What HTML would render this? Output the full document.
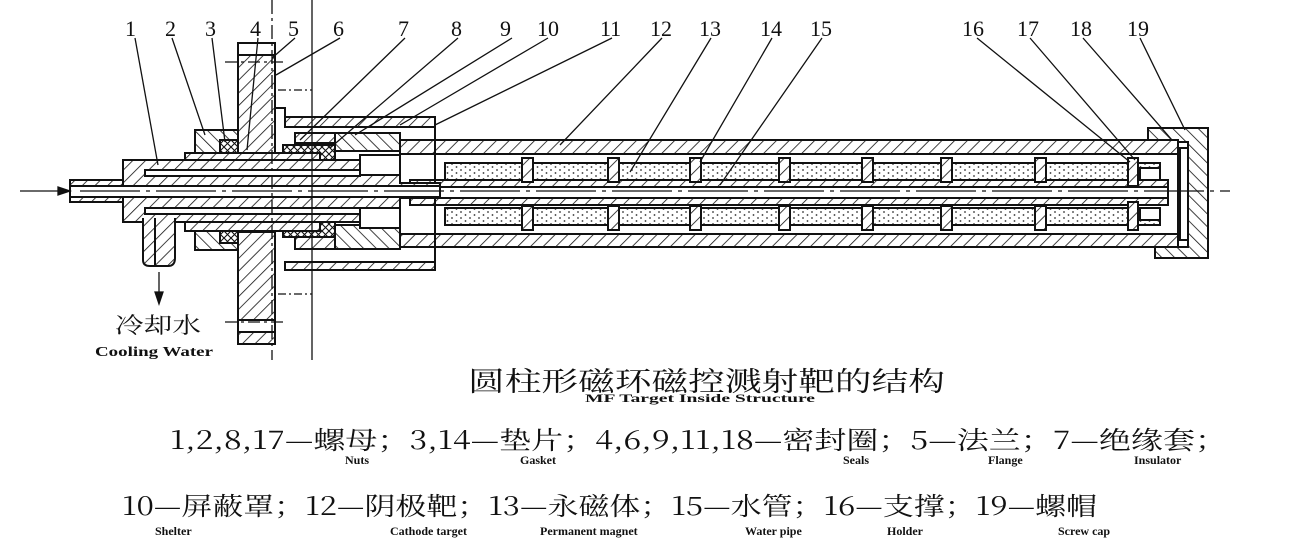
<!DOCTYPE html>
<html><head><meta charset="utf-8"><style>
html,body{margin:0;padding:0;background:#fff;}
svg{display:block}
.n{font-family:"Liberation Serif","Noto Serif CJK SC",serif;font-size:22px;fill:#111}
.cn{font-family:"Noto Serif CJK SC","Noto Sans CJK SC",serif;fill:#111}
.en{font-family:"Liberation Serif",serif;font-weight:bold;fill:#111}
</style></head><body>
<svg width="1300" height="542" viewBox="0 0 1300 542" xmlns="http://www.w3.org/2000/svg">
<defs>
<pattern id="h" width="9" height="9" patternUnits="userSpaceOnUse" patternTransform="rotate(45)"><rect width="9" height="9" fill="#fff"/><line x1="0" y1="0" x2="0" y2="9" stroke="#111" stroke-width="1.6"/></pattern>
<pattern id="h2" width="9" height="9" patternUnits="userSpaceOnUse" patternTransform="rotate(-45)"><rect width="9" height="9" fill="#fff"/><line x1="0" y1="0" x2="0" y2="9" stroke="#111" stroke-width="1.6"/></pattern>
<pattern id="x" width="7" height="7" patternUnits="userSpaceOnUse"><rect width="7" height="7" fill="#fff"/><path d="M0 0L7 7M7 0L0 7" stroke="#111" stroke-width="1.1"/></pattern>
<pattern id="d" width="9" height="6" patternUnits="userSpaceOnUse"><rect width="9" height="6" fill="#fff"/><circle cx="2" cy="2" r="0.9" fill="#333"/><circle cx="6.5" cy="5" r="0.9" fill="#333"/></pattern>
</defs>
<g stroke="#111" stroke-width="2">
<path d="M1148 128H1208V258H1155V247H1188V142H1148Z" fill="url(#h2)"/>
<rect x="1180" y="148" width="8" height="92" fill="#fff"/>
<rect x="400" y="140" width="778" height="14" fill="url(#h)"/>
<rect x="400" y="234" width="778" height="13" fill="url(#h)"/>
<line x1="1178" y1="140" x2="1178" y2="247"/>
<rect x="445" y="163" width="715" height="17" fill="url(#d)"/>
<rect x="445" y="208" width="715" height="17" fill="url(#d)"/>
<rect x="410" y="180" width="758" height="7" fill="url(#h)"/>
<rect x="410" y="198" width="758" height="7" fill="url(#h)"/>
<line x1="1168" y1="180" x2="1168" y2="205"/>
<rect x="1140" y="168" width="20" height="12" fill="#fff"/>
<rect x="1140" y="208" width="20" height="12" fill="#fff"/>
</g>
<g stroke="#111" stroke-width="2" fill="url(#h)">
<rect x="522" y="158" width="11" height="24"/><rect x="522" y="206" width="11" height="24"/>
<rect x="608" y="158" width="11" height="24"/><rect x="608" y="206" width="11" height="24"/>
<rect x="690" y="158" width="11" height="24"/><rect x="690" y="206" width="11" height="24"/>
<rect x="779" y="158" width="11" height="24"/><rect x="779" y="206" width="11" height="24"/>
<rect x="862" y="158" width="11" height="24"/><rect x="862" y="206" width="11" height="24"/>
<rect x="941" y="158" width="11" height="24"/><rect x="941" y="206" width="11" height="24"/>
<rect x="1035" y="158" width="11" height="24"/><rect x="1035" y="206" width="11" height="24"/>
<rect x="1128" y="158" width="10" height="28"/><rect x="1128" y="202" width="10" height="28"/>
</g>
<g stroke="#111" stroke-width="2">
<rect x="285" y="117" width="150" height="10" fill="url(#h)"/>
<rect x="285" y="262" width="150" height="8" fill="url(#h)"/>
<line x1="435" y1="117" x2="435" y2="270"/>
<path d="M275 108H285V117H435" fill="none"/>
<rect x="295" y="133" width="60" height="10" fill="url(#h)"/>
<rect x="295" y="237" width="60" height="12" fill="url(#h)"/>
<rect x="335" y="133" width="65" height="18" fill="url(#h2)"/>
<rect x="335" y="225" width="65" height="24" fill="url(#h2)"/>
<rect x="283" y="145" width="52" height="15" fill="url(#x)"/>
<rect x="283" y="222" width="52" height="15" fill="url(#x)"/>
<rect x="195" y="130" width="43" height="25" fill="url(#h2)"/>
<rect x="195" y="228" width="43" height="22" fill="url(#h2)"/>
<rect x="220" y="140" width="18" height="15" fill="url(#x)"/>
<rect x="220" y="228" width="18" height="15" fill="url(#x)"/>
<rect x="238" y="43" width="37" height="112" fill="url(#h)"/>
<rect x="238" y="232" width="37" height="112" fill="url(#h)"/>
<rect x="238" y="43" width="37" height="12" fill="#fff"/>
<rect x="238" y="320" width="37" height="12" fill="#fff"/>
<rect x="185" y="153" width="135" height="9" fill="url(#h)"/>
<rect x="185" y="222" width="135" height="9" fill="url(#h)"/>
<path d="M123 160H360V175H400V183H440V198H400V208H360V222H123Z" fill="url(#h)"/>
<rect x="145" y="170" width="215" height="6" fill="#fff"/>
<rect x="145" y="208" width="215" height="6" fill="#fff"/>
<rect x="70" y="180" width="53" height="22" fill="url(#h)"/>
<rect x="70" y="186" width="370" height="11" fill="#fff"/>
<path d="M143 218V260Q143 266 150 266H168Q175 266 175 258V218" fill="url(#h)"/>
<line x1="155" y1="218" x2="155" y2="266"/>
<rect x="360" y="155" width="40" height="20" fill="#fff"/>
<rect x="360" y="208" width="40" height="20" fill="#fff"/>
</g>
<g stroke="#111" stroke-width="1.3" fill="none">
<line x1="272" y1="0" x2="272" y2="360" stroke-dasharray="14 4 3 4"/>
<line x1="312" y1="0" x2="312" y2="360"/>
<line x1="225" y1="62" x2="285" y2="62" stroke-dasharray="12 4 3 4"/>
<line x1="278" y1="90" x2="312" y2="90" stroke-dasharray="8 3 2 3"/>
<line x1="278" y1="294" x2="312" y2="294" stroke-dasharray="8 3 2 3"/>
<line x1="225" y1="322" x2="285" y2="322" stroke-dasharray="12 4 3 4"/>
<line x1="80" y1="191" x2="1230" y2="191" stroke-dasharray="60 6 4 6"/>
<line x1="20" y1="191" x2="68" y2="191"/>
<path d="M58 187L70 191L58 195Z" fill="#111"/>
<line x1="159" y1="272" x2="159" y2="300"/>
<path d="M155 292L159 304L163 292Z" fill="#111"/>
<path d="M135 38L158 165M172 38L205 135M212 38L225 142M258 38L247 150M295 38L272 58M340 38L276 75M405 38L300 140M458 38L330 148M512 38L355 135M548 38L400 125M612 38L435 125M662 38L560 145M711 38L630 172M772 38L700 162M822 38L720 185M977 38L1130 162M1030 38L1135 160M1083 38L1172 140M1140 38L1185 130"/>
</g>
<g class="n">
<text x="125" y="36">1</text><text x="165" y="36">2</text><text x="205" y="36">3</text><text x="250" y="36">4</text><text x="288" y="36">5</text><text x="333" y="36">6</text><text x="398" y="36">7</text><text x="451" y="36">8</text><text x="500" y="36">9</text><text x="537" y="36">10</text><text x="600" y="36">11</text><text x="650" y="36">12</text><text x="699" y="36">13</text><text x="760" y="36">14</text><text x="810" y="36">15</text><text x="962" y="36">16</text><text x="1017" y="36">17</text><text x="1070" y="36">18</text><text x="1127" y="36">19</text>
</g>
<text class="cn" x="115" y="333" font-size="22" textLength="86" lengthAdjust="spacingAndGlyphs">冷却水</text>
<text class="en" x="95" y="356" font-size="14" textLength="118" lengthAdjust="spacingAndGlyphs">Cooling Water</text>
<text class="cn" x="468" y="391" font-size="27" textLength="477" lengthAdjust="spacingAndGlyphs">圆柱形磁环磁控溅射靶的结构</text>
<text class="en" x="585" y="402" font-size="12" textLength="230" lengthAdjust="spacingAndGlyphs">MF Target Inside Structure</text>
<text class="cn" x="170" y="449" font-size="25" textLength="1057" lengthAdjust="spacingAndGlyphs">1,2,8,17—螺母；3,14—垫片；4,6,9,11,18—密封圈；5—法兰；7—绝缘套；</text>
<g class="en" font-size="12">
<text x="345" y="464">Nuts</text><text x="520" y="464">Gasket</text><text x="843" y="464">Seals</text><text x="988" y="464">Flange</text><text x="1134" y="464">Insulator</text>
<text x="155" y="535">Shelter</text><text x="390" y="535">Cathode target</text><text x="540" y="535">Permanent magnet</text><text x="745" y="535">Water pipe</text><text x="887" y="535">Holder</text><text x="1058" y="535">Screw cap</text>
</g>
<text class="cn" x="122" y="515" font-size="25" textLength="975" lengthAdjust="spacingAndGlyphs">10—屏蔽罩；12—阴极靶；13—永磁体；15—水管；16—支撑；19—螺帽</text>
</svg>
</body></html>
